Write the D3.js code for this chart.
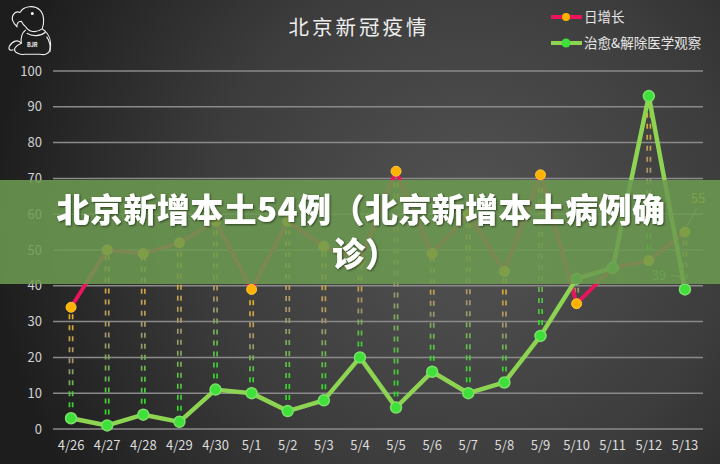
<!DOCTYPE html>
<html>
  <head>
	<meta charset="utf-8">
	<title>北京新冠疫情</title>
	<script src="https://d3js.org/d3.v7.min.js"></script>
	<style>
		body { margin: 0; background: #222; }
		svg text { font-family: "Noto Sans CJK SC", "Noto Sans", sans-serif; }
	</style>
  </head>
  <body>
	<svg id="chart"></svg>
	<script type="text/javascript">
		var dates = ["4/26", "4/27", "4/28", "4/29", "4/30", "5/1", "5/2", "5/3", "5/4",
			"5/5", "5/6", "5/7", "5/8", "5/9", "5/10", "5/11", "5/12", "5/13"];
		var dailyNew = [34, 50, 49, 52, 58, 39, 58, 51, 47, 72, 49, 60, 44, 71, 35, 45, 47, 55];
		var recovered = [3, 1, 4, 2, 11, 10, 5, 8, 20, 6, 16, 10, 13, 26, 42, 45, 93, 39];
		var yTicks = [0, 10, 20, 30, 40, 50, 60, 70, 80, 90, 100];
		var seriesNames = ["日增长", "治愈&解除医学观察"];

		var width = 720, height = 464;
		var margin = {top: 71, bottom: 35, left: 53, right: 17};

		var svg = d3.select("#chart")
			.attr("width", width)
			.attr("height", height);
		var defs = svg.append("defs");

		// background
		var bg = defs.append("radialGradient")
			.attr("id", "bg")
			.attr("gradientUnits", "userSpaceOnUse")
			.attr("cx", 470).attr("cy", 220).attr("r", 480);
		bg.append("stop").attr("offset", 0).attr("stop-color", "#535353");
		bg.append("stop").attr("offset", 0.55).attr("stop-color", "#3c3c3c");
		bg.append("stop").attr("offset", 1).attr("stop-color", "#1d1d1d");
		svg.append("rect")
			.attr("width", width).attr("height", height)
			.attr("fill", "url(#bg)");

		var xScale = d3.scaleBand()
			.domain(dates)
			.range([margin.left, width - margin.right]);
		var xc = function(d) { return xScale(d) + xScale.bandwidth() / 2; };
		var yScale = d3.scaleLinear()
			.domain([0, 100])
			.range([height - margin.bottom, margin.top]);

		// grid
		svg.append("g").selectAll("line")
			.data(yTicks)
			.enter().append("line")
			.attr("x1", margin.left).attr("x2", width - margin.right)
			.attr("y1", function(d) { return yScale(d); })
			.attr("y2", function(d) { return yScale(d); })
			.attr("stroke", "#8a8a8a")
			.attr("stroke-width", 1.5);

		var yAxis = svg.append("g")
			.attr("transform", "translate(" + (margin.left - 11) + ",0)")
			.call(d3.axisLeft(yScale).tickValues(yTicks).tickSize(0).tickPadding(0));
		yAxis.select(".domain").remove();
		yAxis.selectAll("text")
			.attr("fill", "#d2d2d2")
			.attr("font-size", 13);

		var xAxis = svg.append("g")
			.attr("transform", "translate(0," + (height - margin.bottom) + ")")
			.call(d3.axisBottom(xScale).tickSize(0).tickPadding(12));
		xAxis.select(".domain").remove();
		xAxis.selectAll("text")
			.attr("fill", "#dcdcdc")
			.attr("font-size", 13);

		// drop lines between the two series
		var rows = dates.map(function(d, i) {
			return {date: d, a: dailyNew[i], b: recovered[i], i: i};
		});
		rows.forEach(function(r) {
			var g = defs.append("linearGradient")
				.attr("id", "drop" + r.i)
				.attr("gradientUnits", "userSpaceOnUse")
				.attr("x1", 0).attr("x2", 0)
				.attr("y1", yScale(Math.max(r.a, r.b)))
				.attr("y2", yScale(Math.min(r.a, r.b)));
			g.append("stop").attr("offset", 0).attr("stop-color", "#f2b41a");
			g.append("stop").attr("offset", 0.5).attr("stop-color", "#a09474");
			g.append("stop").attr("offset", 1).attr("stop-color", "#1ee41e");
		});
		var drops = svg.append("g").selectAll("g")
			.data(rows)
			.enter().append("g");
		[-1.6, 1.6].forEach(function(off) {
			drops.append("line")
				.attr("x1", function(d) { return xc(d.date) + off; })
				.attr("x2", function(d) { return xc(d.date) + off; })
				.attr("y1", function(d) { return yScale(Math.min(d.a, d.b)); })
				.attr("y2", function(d) { return yScale(Math.max(d.a, d.b)); })
				.attr("stroke", function(d) { return "url(#drop" + d.i + ")"; })
				.attr("stroke-width", 1.7)
				.attr("stroke-dasharray", "5,6");
		});

		var line = d3.line()
			.x(function(d, i) { return xc(dates[i]); })
			.y(function(d) { return yScale(d); });

		svg.append("path")
			.datum(dailyNew)
			.attr("d", line)
			.attr("fill", "none")
			.attr("stroke", "#e8145c")
			.attr("stroke-width", 4)
			.attr("stroke-linejoin", "round");
		svg.append("g").selectAll("circle")
			.data(dailyNew)
			.enter().append("circle")
			.attr("cx", function(d, i) { return xc(dates[i]); })
			.attr("cy", function(d) { return yScale(d); })
			.attr("r", 5)
			.attr("fill", "#ffb300")
			.attr("stroke", "#f6c640")
			.attr("stroke-width", 1);

		svg.append("path")
			.datum(recovered)
			.attr("d", line)
			.attr("fill", "none")
			.attr("stroke", "#8dd452")
			.attr("stroke-width", 4.5)
			.attr("stroke-linejoin", "round");
		svg.append("g").selectAll("circle")
			.data(recovered)
			.enter().append("circle")
			.attr("cx", function(d, i) { return xc(dates[i]); })
			.attr("cy", function(d) { return yScale(d); })
			.attr("r", 5.5)
			.attr("fill", "#3fe03a")
			.attr("stroke", "#7ee06a")
			.attr("stroke-width", 1.5);

		// last point labels
		var last = dates.length - 1;
		var lx = xc(dates[last]);
		svg.append("path")
			.attr("d", "M" + (lx + 2) + "," + (yScale(dailyNew[last]) - 6) + "L" + (lx + 12) + "," + (yScale(dailyNew[last]) - 24))
			.attr("stroke", "#bbbbbb").attr("stroke-width", 0.8).attr("fill", "none");
		svg.append("text")
			.attr("x", lx + 13).attr("y", yScale(dailyNew[last]) - 29)
			.attr("text-anchor", "middle")
			.attr("font-size", 13)
			.attr("fill", "#f3d21e")
			.text(dailyNew[last]);
		svg.append("path")
			.attr("d", "M" + (lx - 14) + "," + (yScale(recovered[last]) - 14) + "L" + (lx - 5) + "," + (yScale(recovered[last]) - 13) + "L" + (lx - 2) + "," + (yScale(recovered[last]) - 6))
			.attr("stroke", "#bbbbbb").attr("stroke-width", 0.8).attr("fill", "none");
		svg.append("text")
			.attr("x", lx - 26).attr("y", yScale(recovered[last]) - 9)
			.attr("text-anchor", "middle")
			.attr("font-size", 13)
			.attr("fill", "#4cd23c")
			.text(recovered[last]);

		// banner
		svg.append("rect")
			.attr("x", 0).attr("y", 180)
			.attr("width", width).attr("height", 104)
			.attr("fill", "#6c9a50")
			.attr("fill-opacity", 0.87);
		var shadow = defs.append("filter").attr("id", "shadow");
		shadow.append("feDropShadow")
			.attr("dx", 1).attr("dy", 1).attr("stdDeviation", 1.2)
			.attr("flood-color", "#000").attr("flood-opacity", 0.55);
		var banner = svg.append("g").attr("filter", "url(#shadow)");
		banner.append("text")
			.attr("x", 361).attr("y", 222)
			.attr("text-anchor", "middle")
			.attr("font-size", 33)
			.attr("font-weight", 900)
			.attr("letter-spacing", 0.4)
			.attr("fill", "#ffffff")
			.text("北京新增本土54例（北京新增本土病例确");
		banner.append("text")
			.attr("x", 365).attr("y", 266)
			.attr("text-anchor", "middle")
			.attr("font-size", 33)
			.attr("font-weight", 900)
			.attr("fill", "#ffffff")
			.text("诊）");

		// title
		svg.append("text")
			.attr("x", 359).attr("y", 35)
			.attr("text-anchor", "middle")
			.attr("font-size", 20.5)
			.attr("letter-spacing", 3)
			.attr("fill", "#eeeeee")
			.text("北京新冠疫情");

		// legend
		var legend = svg.append("g").selectAll("g")
			.data(seriesNames)
			.enter().append("g")
			.attr("transform", function(d, i) { return "translate(551," + (17 + i * 26) + ")"; });
		legend.append("line")
			.attr("x1", 0).attr("x2", 31)
			.attr("stroke", function(d, i) { return i === 0 ? "#e8145c" : "#8dd452"; })
			.attr("stroke-width", 4);
		legend.append("circle")
			.attr("cx", 15).attr("r", function(d, i) { return i === 0 ? 4 : 4.5; })
			.attr("fill", function(d, i) { return i === 0 ? "#ffb300" : "#3fe03a"; });
		legend.append("text")
			.attr("x", 33).attr("y", 5)
			.attr("font-size", 13.5)
			.attr("fill", "#e6e6e6")
			.text(function(d) { return d; });

		// logo
		var logo = svg.append("g")
			.attr("transform", "translate(-4,-3) scale(1.1)")
			.attr("fill", "none")
			.attr("stroke", "#f0f0f0")
			.attr("stroke-width", 1);
		logo.append("path")
			.attr("d", "M22,14 C25,8 35,7 40,12 C44,16 44,24 42,29 M22,14 C17,12 14,17 15,21 C16,24 18,26 19,27 C19,24 20,22 23,22 C24,24 25,26 27,27");
		logo.append("path")
			.attr("d", "M27,27 C30,32 36,33 42,29 C48,33 51,40 49,48 C48,52 44,53 40,52 L26,52 C21,53 16,50 17,47 C18,44 21,43 23,42 C22,37 24,32 27,30");
		logo.append("path")
			.attr("d", "M23,42 C20,38 15,40 12,45 C11,48 13,49 16,48 M28,33 C33,36 40,36 45,32 M46,36 C49,40 50,46 49,50");
		logo.append("circle").attr("cx", 33).attr("cy", 15).attr("r", 0.9).attr("fill", "#f0f0f0");
		logo.append("rect")
			.attr("x", 28).attr("y", 40).attr("width", 10).attr("height", 6)
			.attr("fill", "#2a2a2a").attr("stroke", "none");
		svg.append("text")
			.attr("x", 32.3).attr("y", 47)
			.attr("text-anchor", "middle")
			.attr("font-size", 5.5)
			.attr("font-weight", "bold")
			.attr("fill", "#f0f0f0")
			.text("BJR");
	</script>
  </body>
</html>
